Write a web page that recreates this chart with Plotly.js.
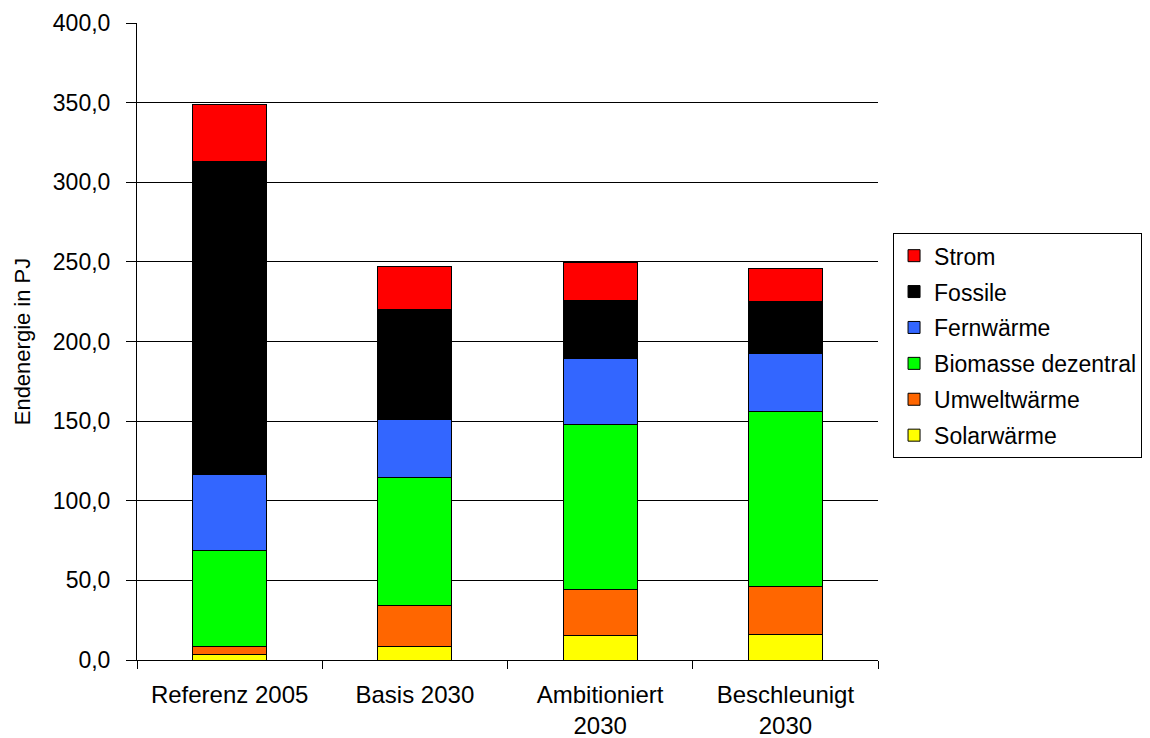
<!DOCTYPE html>
<html>
<head>
<meta charset="utf-8">
<script src="https://cdn.plot.ly/plotly-3.0.1.min.js"></script>
<style>html,body{margin:0;padding:0;background:#fff;}#chart{width:1150px;height:738px;}</style>
</head>
<body>
<div id="chart"></div>
<script>
const categories = ["Referenz 2005", "Basis 2030", "Ambitioniert<br>2030", "Beschleunigt<br>2030"];
const solarwaerme = [3.3, 8.4, 15.1, 16.1];
const umweltwaerme = [5.1, 26.1, 29.3, 29.9];
const biomasse = [60.2, 79.8, 103.6, 110.2];
const fernwaerme = [47.6, 37.0, 41.4, 36.2];
const fossile = [196.8, 68.9, 36.6, 32.6];
const strom = [36.0, 26.8, 23.5, 20.7];
const seriesNames = ["Solarwärme", "Umweltwärme", "Biomasse dezentral", "Fernwärme", "Fossile", "Strom"];
const seriesColors = ["#FFFF00", "#FF6600", "#00FF00", "#3366FF", "#000000", "#FF0000"];
const seriesValues = [solarwaerme, umweltwaerme, biomasse, fernwaerme, fossile, strom];

const traces = seriesValues.map((vals, i) => ({
  type: 'bar',
  name: seriesNames[i],
  x: categories,
  y: vals,
  legendgroup: 'g' + i,
  legendrank: 100 - i,
  marker: {color: seriesColors[i], line: {color: '#000000', width: 1}},
  hoverinfo: 'name+y'
}));

const layout = {
  width: 1150, height: 738,
  margin: {l: 137, r: 272, t: 23, b: 78, autoexpand: false},
  paper_bgcolor: '#ffffff', plot_bgcolor: '#ffffff',
  barmode: 'stack',
  bargap: 0.6,
  separators: ', ',
  font: {family: 'Liberation Sans, Arial, sans-serif', size: 23, color: '#000000'},
  xaxis: {
    showline: true, linecolor: '#000000', linewidth: 1,
    ticks: 'outside', tickson: 'boundaries', ticklen: 8, tickcolor: '#000000',
    ticklabelstandoff: 13,
    showgrid: false, tickfont: {size: 24}
  },
  yaxis: {
    range: [0, 400], dtick: 50, tickformat: '.1f',
    showline: true, linecolor: '#000000', linewidth: 1,
    ticks: 'outside', ticklen: 10, tickcolor: '#000000',
    ticklabelstandoff: 11,
    showgrid: true, gridcolor: '#000000', gridwidth: 1,
    zeroline: false, tickfont: {size: 23},
    title: {text: 'Endenergie in PJ', font: {size: 22}, standoff: 16}
  },
  legend: {
    x: 1.0203, xanchor: 'left', y: 0.670, yanchor: 'top',
    traceorder: 'grouped', tracegroupgap: 3,
    itemwidth: 30,
    bordercolor: '#000000', borderwidth: 1,
    font: {size: 23}
  },
  showlegend: true
};

Plotly.newPlot('chart', traces, layout, {displayModeBar: false, staticPlot: true});
</script>
</body>
</html>
